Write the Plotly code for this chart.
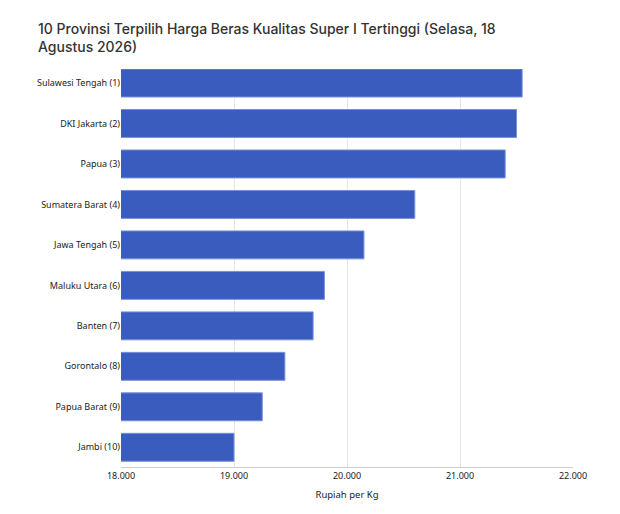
import plotly.graph_objects as go

provinces = ["Sulawesi Tengah (1)", "DKI Jakarta (2)", "Papua (3)", "Sumatera Barat (4)",
             "Jawa Tengah (5)", "Maluku Utara (6)", "Banten (7)", "Gorontalo (8)",
             "Papua Barat (9)", "Jambi (10)"]
prices = [21550, 21500, 21400, 20600, 20150, 19800, 19700, 19450, 19250, 19000]
tick_vals = [18000, 19000, 20000, 21000, 22000]
tick_text = ["18.000", "19.000", "20.000", "21.000", "22.000"]

fig = go.Figure(go.Bar(
    x=prices, y=provinces, orientation="h",
    marker=dict(color="#3a5cbe", line=dict(color="#7890d8", width=1)),
    hovertemplate="%{y}: %{x}<extra></extra>",
))

fig.update_layout(
    width=620, height=514,
    margin=dict(l=113, r=55, t=61, b=55),
    paper_bgcolor="white", plot_bgcolor="white",
    bargap=0.31,
    showlegend=False,
    title=dict(
        text="10 Provinsi Terpilih Harga Beras Kualitas Super I Tertinggi (Selasa, 18<br>Agustus 2026)",
        x=30/620, xref="container", xanchor="left",
        y=1-26/514, yref="container", yanchor="top",
        font=dict(family="Inter", size=14, color="#333333", weight=500),
    ),
    font=dict(family="Noto Sans", size=9, color="#222222"),
)

fig.update_xaxes(
    range=[18000, 22000], tickvals=tick_vals, ticktext=tick_text,
    showgrid=True, gridcolor="#e6e6e6", gridwidth=1,
    showline=True, linecolor="#cccccc", linewidth=1,
    zeroline=False, ticks="",
    tickfont=dict(family="Noto Sans", size=9, color="#222222"),
    title=dict(text="Rupiah per Kg", font=dict(family="Noto Sans", size=9.5, color="#222222"), standoff=10),
)
fig.update_yaxes(
    categoryorder="array", categoryarray=provinces,
    range=[9.487, -0.346],
    showgrid=False, ticks="", ticklen=0,
    tickfont=dict(family="Noto Sans", size=9, color="#222222"),
)

fig.write_html("out.html")
